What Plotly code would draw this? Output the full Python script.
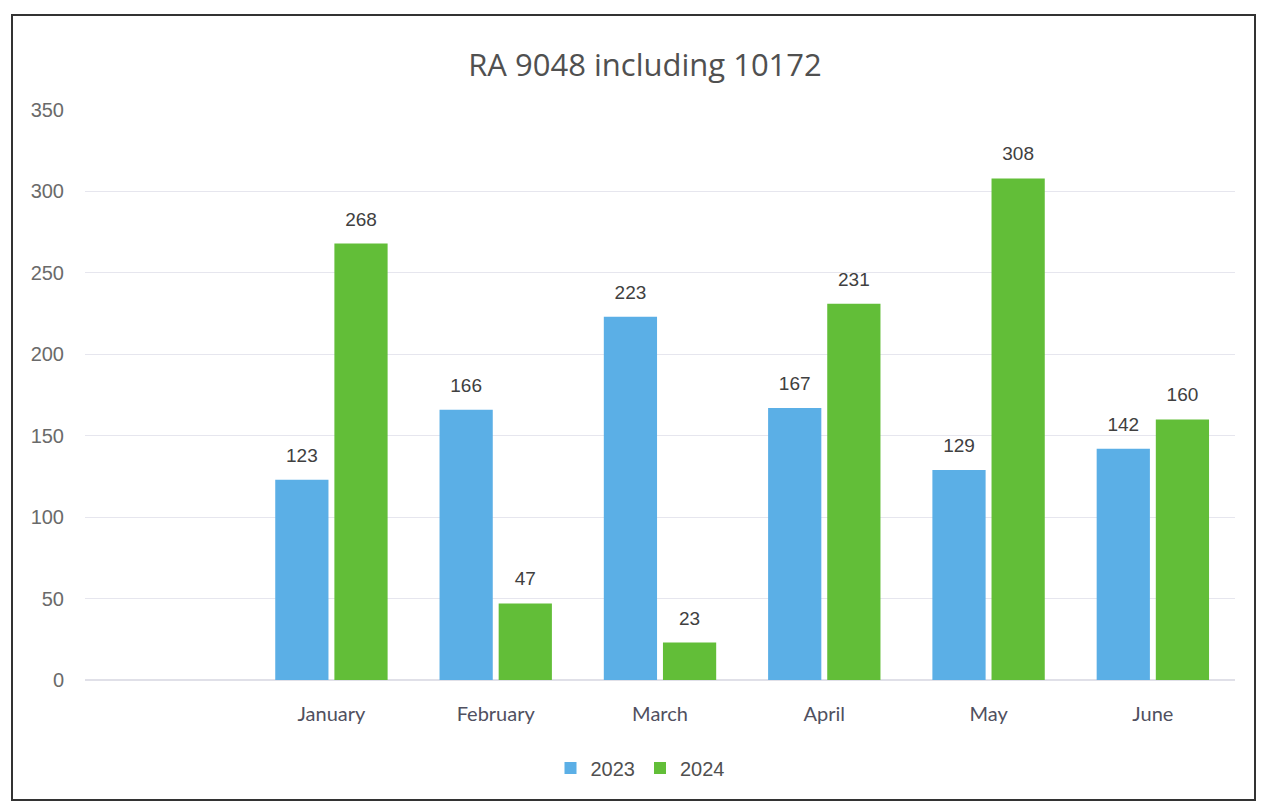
import plotly.graph_objects as go

categories = [" ", "January", "February", "March", "April", "May", "June"]
series_2023 = [None, 123, 166, 223, 167, 129, 142]
series_2024 = [None, 268, 47, 23, 231, 308, 160]
y_ticks = [0, 50, 100, 150, 200, 250, 300, 350]

blue = "#5BAFE6"
green = "#62BE38"

fig = go.Figure()
for name, vals, col in [("2023", series_2023, blue), ("2024", series_2024, green)]:
    fig.add_trace(go.Bar(
        x=categories, y=vals, name=name, marker_color=col, marker_line_width=0,
        text=[("" if v is None else f"<span style='font-size:19px'>{v}</span><br> ") for v in vals],
        textposition="outside", cliponaxis=False,
        textfont=dict(family="Liberation Sans, Arial", size=10, color="#404040"),
    ))

# page has an 8px body margin; figure is sized/offset to compensate
W, H = 1257, 798
L, R, T, B = 77, 30, 102, 126
pw, ph = W - L - R, H - T - B

def px_to_paper_x(px):
    return (px - 8 - L) / pw

def px_to_paper_y(py):
    return (H - B - (py - 8)) / ph

fig.update_layout(
    width=W, height=H,
    paper_bgcolor="white", plot_bgcolor="white",
    margin=dict(l=L, r=R, t=T, b=B, pad=0),
    barmode="group", bargap=0.28, bargroupgap=0.1,
    uniformtext=dict(mode=False),
    title=dict(text="RA 9048 including 10172", x=(645 - 8) / W,
               xanchor="center", yref="container", y=1 - (65 - 8) / H, yanchor="middle",
               font=dict(family="Open Sans", size=31, color="#505050")),
    legend=dict(orientation="h", x=px_to_paper_x(640), xanchor="center",
                y=px_to_paper_y(768), yanchor="middle", bgcolor="rgba(0,0,0,0)",
                font=dict(family="Liberation Sans, Arial", size=20, color="#505050"),
                itemwidth=30, traceorder="normal"),
    font=dict(family="Liberation Sans, Arial"),
)
fig.update_xaxes(type="category", categoryorder="array", categoryarray=categories,
                 range=[-0.5, 6.5], showline=False, ticks="",
                 tickfont=dict(family="Lato", size=20, color="#505060"),
                 ticklabelstandoff=20)
fig.update_yaxes(range=[0, 350], tickvals=y_ticks, showgrid=True, gridcolor="#E6E6EE",
                 gridwidth=1, zeroline=True, zerolinecolor="#E0E0E8", ticks="",
                 tickfont=dict(family="Liberation Sans, Arial", size=20, color="#6A6A6A"),
                 ticklabelstandoff=20)
fig.add_shape(type="rect", xref="paper", yref="paper",
              x0=px_to_paper_x(12), x1=px_to_paper_x(1255),
              y0=px_to_paper_y(800), y1=px_to_paper_y(15),
              line=dict(color="#333333", width=2), fillcolor="rgba(0,0,0,0)", layer="above")

fig.write_html("out.html")
